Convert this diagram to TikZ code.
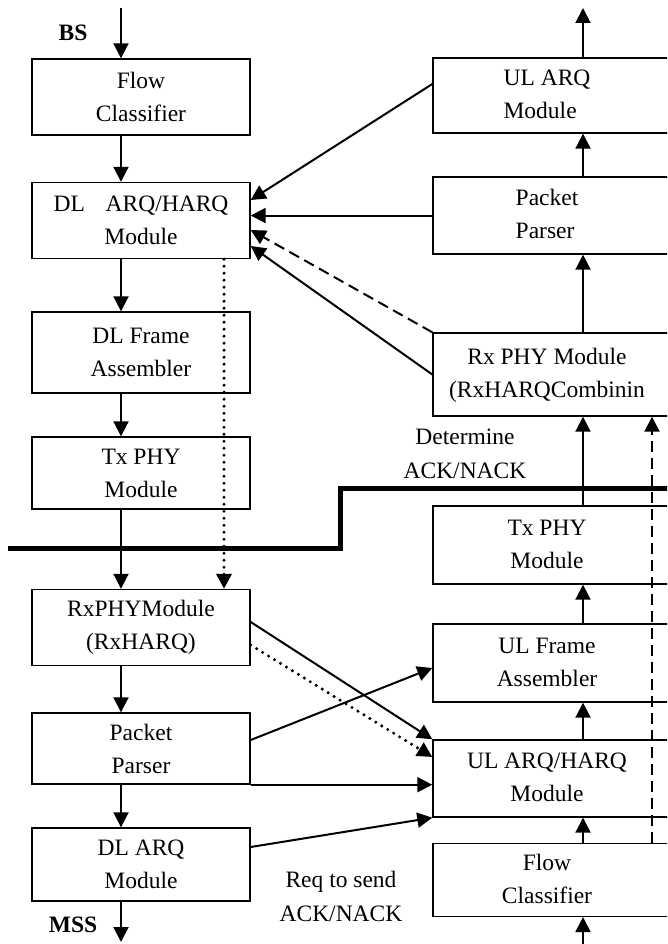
\documentclass[tikz,border=0pt]{standalone}
\usepackage{fontspec}
\setmainfont{Liberation Serif}
\usetikzlibrary{arrows.meta}

\newcommand{\rlines}[3][c]{\begin{tabular}{@{}#1@{}}#2\\#3\end{tabular}\hspace*{72pt}}

\tikzset{
  blk/.style={draw, line width=1.4pt, minimum width=218pt, minimum height=76pt,
    align=center, font=\fontsize{23.5}{33}\selectfont},
  rblk/.style={blk, minimum width=300pt},
  lbl/.style={align=center, font=\fontsize{23.5}{34}\selectfont},
  flow/.style={-{Triangle[length=15pt,width=15pt]}, line width=2pt},
  dashline/.style={dash pattern=on 11pt off 6pt},
  dotline/.style={dash pattern=on 0pt off 7pt, line cap=round, line width=3.4pt},
}

\begin{document}
\begin{tikzpicture}[x=1pt,y=-1pt]
\useasboundingbox (0,0) rectangle (667,944);
\clip (0,0) rectangle (667,944);
				% BS side
				\node[blk] (lfc) at (141,97) {Flow\\Classifier};
				\node[blk] (ldlarq) at (141,220.5) {DL\hspace{15pt} ARQ/HARQ\\Module};
				\node[blk, minimum height=81pt] (lframe) at (141,352.5) {DL Frame\\Assembler};
				\node[blk, minimum height=72pt] (ltxphy) at (141,473) {Tx PHY\\Module};
				\node[blk] (lrxphy) at (141,627.5) {RxPHYModule\\(RxHARQ)};
				\node[blk, minimum height=71pt] (lparser) at (141,748.5) {Packet\\Parser};
				\node[blk, minimum height=73pt] (ldlarqm) at (141,864.5) {DL ARQ\\Module};
				% MSS side
				\node[rblk, minimum height=75pt] (rularq) at (583,95.5) {\rlines[l]{UL ARQ}{Module}};
				\node[rblk, minimum height=77pt] (rparser) at (583,215.5) {\rlines[l]{Packet}{Parser}};
				\node[rblk, minimum height=83pt] (rrxphy) at (583,374.5) {\rlines{Rx PHY Module}{(RxHARQCombinin}};
				\node[rblk, minimum height=78pt] (rtxphy) at (583,545) {\rlines{Tx PHY}{Module}};
				\node[rblk, minimum height=78pt] (rframe) at (583,663) {\rlines{UL Frame}{Assembler}};
				\node[rblk, minimum height=77pt] (rularqh) at (583,778.5) {\rlines{UL ARQ/HARQ}{Module}};
				\node[rblk, minimum height=72pt] (rfc) at (583,880) {\rlines{Flow}{Classifier}};
				% labels
				\node[lbl, font=\fontsize{23.5}{34}\selectfont\bfseries] (bslbl) at (73,33) {BS};
				\node[lbl, font=\fontsize{23.5}{34}\selectfont\bfseries] (msslbl) at (73,925) {MSS};
				\node[lbl] (ackdet) at (465,454) {Determine\\ACK/NACK};
				\node[lbl] (ackreq) at (341,896) {Req to send\\ACK/NACK};
				\coordinate (bsin) at (121,8);
				\coordinate (mssout) at (121,942);
				\coordinate (ulin) at (583,950);
				\coordinate (ulout) at (583,8);
				% downlink chain
				\draw[flow] (bsin) -- ([xshift=-20pt]lfc.north);
				\foreach \a/\b in {lfc/ldlarq, ldlarq/lframe, lframe/ltxphy, ltxphy/lrxphy, lrxphy/lparser, lparser/ldlarqm}
					\draw[flow] ([xshift=-20pt]\a.south) -- ([xshift=-20pt]\b.north);
				\draw[flow] ([xshift=-20pt]ldlarqm.south) -- (mssout);
				% uplink chain
				\draw[flow] (ulin) -- (rfc.south);
				\foreach \a/\b in {rfc/rularqh, rularqh/rframe, rframe/rtxphy, rtxphy/rrxphy, rrxphy/rparser, rparser/rularq}
					\draw[flow] (\a.north) -- (\b.south);
				\draw[flow] (rularq.north) -- (ulout);
				\draw[flow, dashline] ([xshift=69pt]rfc.north) -- ([xshift=69pt]rrxphy.south);
				% feedback to BS
				\draw[flow] ([yshift=11.5pt]rularq.west) -- ([yshift=20.5pt]ldlarq.east);
				\draw[flow] (rparser.west) -- (rparser.west -| ldlarq.east);
				\draw[flow, dashline] (rrxphy.north west) -- ([yshift=-9.5pt]ldlarq.east);
				\draw[flow] (rrxphy.west) -- ([yshift=-25.5pt]ldlarq.east);
				\draw[flow, dotline] ([xshift=83pt]ldlarq.south) -- ([xshift=83pt]lrxphy.north);
				% MSS cross links
				\draw[flow] ([yshift=5.5pt]lrxphy.east) -- (rularqh.north west);
				\draw[flow, dotline] ([yshift=-17.5pt]lrxphy.east) -- ([yshift=21.5pt]rularqh.west);
				\draw[flow] ([yshift=8.5pt]lparser.east) -- ([yshift=-5pt]rframe.west);
				\draw[flow] (lparser.south east) -- (lparser.south east -| rularqh.west);
				\draw[flow] ([yshift=17.5pt]ldlarqm.east) -- (rularqh.south west);
				% air interface
				\draw[line width=5pt] (8,548) -- (340,548) -- (340,488) -- (680,488);
			\end{tikzpicture}
\end{document}
